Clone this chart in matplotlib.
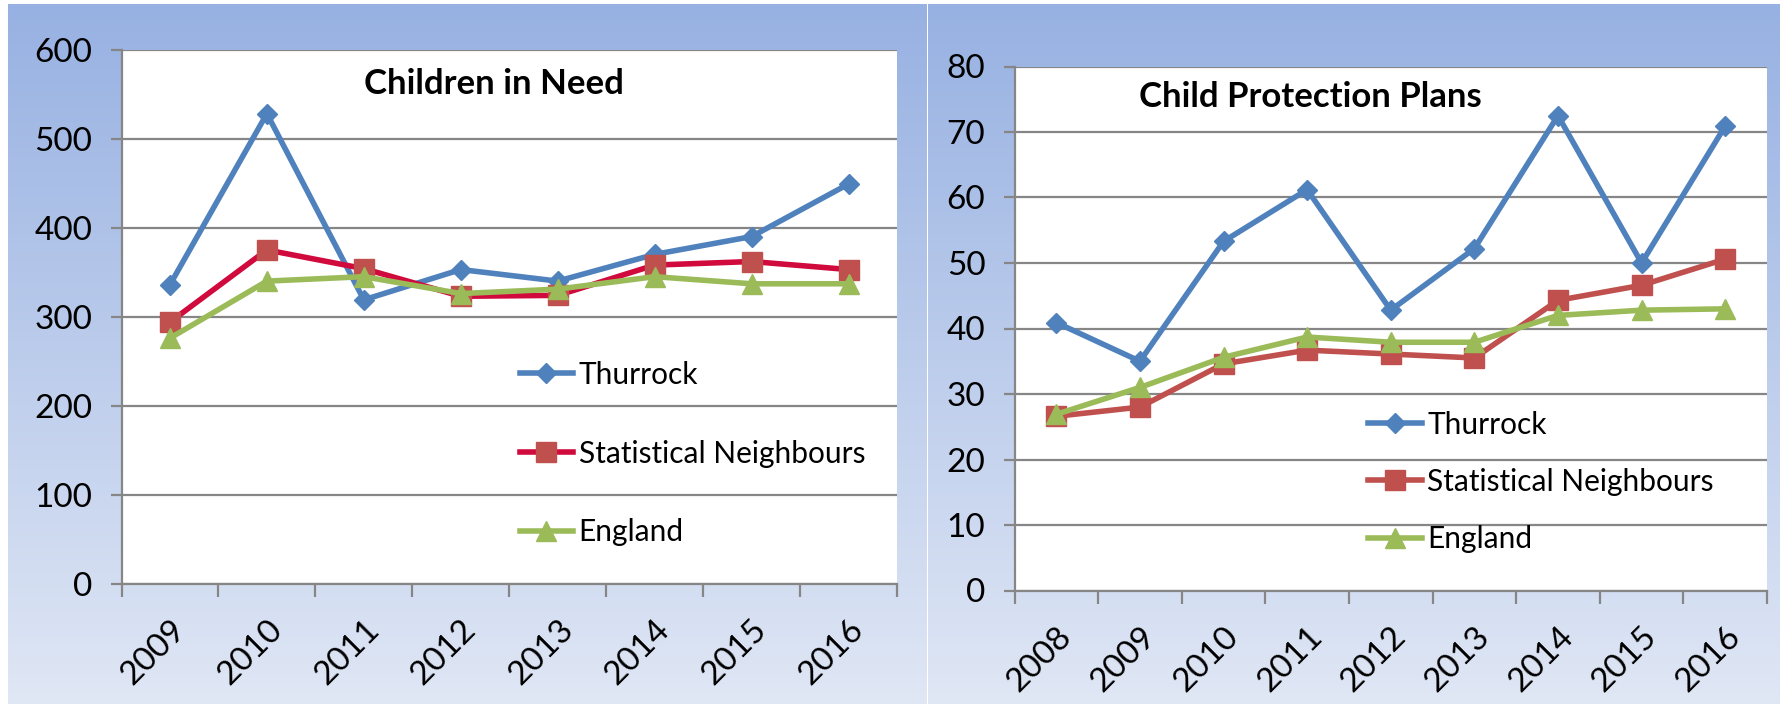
import numpy as np
import matplotlib
matplotlib.use("Agg")
import matplotlib.pyplot as plt
from matplotlib.colors import LinearSegmentedColormap

plt.rcParams['font.family'] = ['Lato', 'DejaVu Sans']

# Children in Need (rate per 10,000)
cin_years = ['2009', '2010', '2011', '2012', '2013', '2014', '2015', '2016']
cin_thurrock = [336, 528, 319, 353, 340, 370, 390, 449]
cin_stat_nb = [294, 375, 354, 323, 324, 358, 362, 353]
cin_england = [276, 340, 345, 326, 331, 345, 337, 337]

# Child Protection Plans (rate per 10,000)
cpp_years = ['2008', '2009', '2010', '2011', '2012', '2013', '2014', '2015', '2016']
cpp_thurrock = [40.9, 35.0, 53.3, 61.2, 42.8, 52.2, 72.5, 50.0, 70.9]
cpp_stat_nb = [26.6, 28.0, 34.6, 36.7, 36.1, 35.5, 44.3, 46.6, 50.6]
cpp_england = [26.9, 31.0, 35.6, 38.7, 37.9, 37.9, 42.0, 42.8, 43.0]

series_names = ['Thurrock', 'Statistical Neighbours', 'England']

W, H = 1780, 704
fig = plt.figure(figsize=(W / 100, H / 100), dpi=100, facecolor='white')

def px_box(x0, y0, x1, y1):
    # pixel box (top-left origin) -> figure rect
    return [x0 / W, 1 - y1 / H, (x1 - x0) / W, (y1 - y0) / H]

# blue gradient panels behind each chart
grad = LinearSegmentedColormap.from_list('bg', ['#E0E7F5', '#97B1E2'])
for box in [px_box(8, 4, 927, 704), px_box(928, 4, 1780, 704)]:
    bg = fig.add_axes(box, zorder=-5)
    bg.imshow(np.linspace(0, 1, 256).reshape(-1, 1), aspect='auto', cmap=grad,
              origin='lower', extent=[0, 1, 0, 1])
    bg.set_axis_off()

GRID = '#868686'

def draw_chart(box, years, values, ymax, ystep, title, title_xy, leg_xy,
               sn_line, labelspacing):
    ax = fig.add_axes(box)
    ax.set_facecolor('white')
    x = np.arange(len(years))
    thur, sn, eng = values
    ax.plot(x, thur, color='#4F81BD', lw=4, marker='D', ms=10.5,
            mfc='#4F81BD', mec='#4F81BD', label=series_names[0])
    ax.plot(x, sn, color=sn_line, lw=4, marker='s', ms=14,
            mfc='#C0504D', mec='#C0504D', label=series_names[1])
    ax.plot(x, eng, color='#9BBB59', lw=4, marker='^', ms=15,
            mfc='#9BBB59', mec='#9BBB59', label=series_names[2])

    ax.set_xlim(-0.5, len(years) - 0.5)
    ax.set_ylim(0, ymax)
    ax.set_yticks(np.arange(0, ymax + ystep / 2, ystep))
    ax.yaxis.grid(True, color=GRID, lw=1.6)
    ax.set_axisbelow(True)

    # ticks sit between categories, labels at the category centres
    ax.set_xticks(np.arange(-0.5, len(years), 1))
    ax.set_xticklabels([])
    ax.set_xticks(x, minor=True)
    ax.set_xticklabels(years, minor=True)
    ax.tick_params(axis='x', which='major', length=9, width=1.6, color=GRID,
                   direction='out')
    ax.tick_params(axis='x', which='minor', length=0, pad=22, labelsize=24)
    ax.tick_params(axis='y', length=8, width=1.6, color=GRID, pad=13,
                   labelsize=24)
    for lbl in ax.get_xticklabels(minor=True):
        lbl.set_rotation(45)
        lbl.set_rotation_mode('anchor')
        lbl.set_ha('right')
        lbl.set_va('top')

    for side in ['top', 'right']:
        ax.spines[side].set_visible(False)
    for side in ['left', 'bottom']:
        ax.spines[side].set_color(GRID)
        ax.spines[side].set_linewidth(1.6)

    ax.text(title_xy[0], title_xy[1], title, transform=ax.transAxes,
            ha='center', va='baseline', fontsize=25, fontweight='bold')

    ax.legend(loc='center left', bbox_to_anchor=leg_xy,
              bbox_transform=fig.transFigure, frameon=False, fontsize=21.5,
              handlelength=1.8, handletextpad=0.18, labelspacing=labelspacing,
              borderpad=0, borderaxespad=0)
    return ax

draw_chart(px_box(121.5, 49.5, 897, 584), cin_years,
           (cin_thurrock, cin_stat_nb, cin_england), 600, 100,
           'Children in Need', (0.48, 0.916), (0.2919, 0.3558),
           '#D00A3C', 1.70)

draw_chart(px_box(1014.5, 66.5, 1767, 590.5), cpp_years,
           (cpp_thurrock, cpp_stat_nb, cpp_england), 80, 10,
           'Child Protection Plans', (0.393, 0.923), (0.7685, 0.3156),
           '#C0504D', 0.98)

fig.savefig('out.png', dpi=100, facecolor='white')
